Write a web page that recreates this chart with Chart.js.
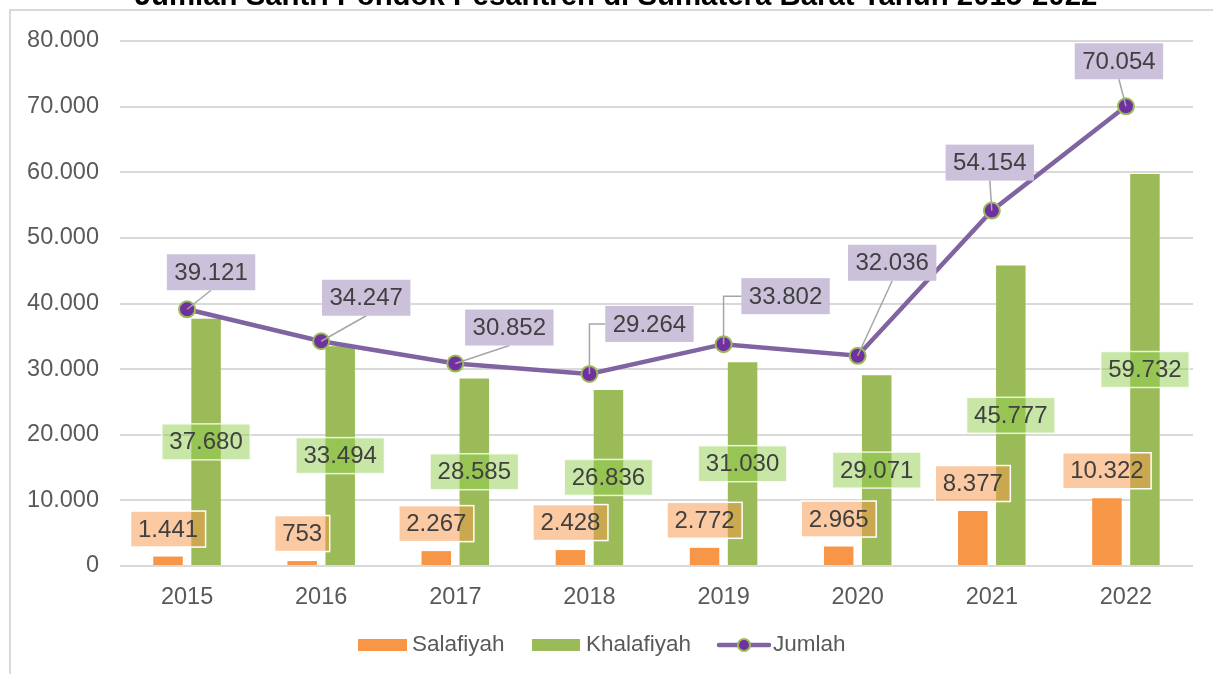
<!DOCTYPE html>
<html><head><meta charset="utf-8">
<script src="https://cdn.jsdelivr.net/npm/chart.js@4"></script>
<style>
html,body{margin:0;padding:0;background:#fff;}
#wrap{position:relative;width:1213px;height:674px;overflow:hidden;}
#frame{position:absolute;left:9px;top:9px;width:1220px;height:700px;border-left:2px solid #D9D9D9;border-top:2px solid #D9D9D9;}
canvas{position:absolute;left:0;top:0;}
</style></head><body>
<div id="wrap"><div id="frame"></div><canvas id="c" width="1213" height="674"></canvas></div>
<script>
const chartTitle = "Jumlah Santri Pondok Pesantren di Sumatera Barat Tahun 2015-2022";
const years = ["2015","2016","2017","2018","2019","2020","2021","2022"];
const salafiyah = [1441, 753, 2267, 2428, 2772, 2965, 8377, 10322];
const khalafiyah = [37680, 33494, 28585, 26836, 31030, 29071, 45777, 59732];
const jumlah = [39121, 34247, 30852, 29264, 33802, 32036, 54154, 70054];
const seriesNames = ["Salafiyah", "Khalafiyah", "Jumlah"];

// label placement (style, not data)
const jumlahLabelOffset = [[24,-37],[45,-43.5],[54,-36],[60,-50],[62,-48],[34.5,-93],[-2,-48],[-7,-45]];
const jumlahLeader = ['b','b','b','l','l','b','b','b'];

const FONT = "'Liberation Sans', Arial, sans-serif";
Chart.defaults.font.family = FONT;
const fmt = v => String(v).replace(/\B(?=(\d{3})+(?!\d))/g, '.');
const LABEL_FONT = "24px " + FONT;

function drawBox(ctx, cx, cy, text, fill, stroke) {
  ctx.font = LABEL_FONT;
  const w = ctx.measureText(text).width + 15, h = 36;
  const x = cx - w/2, y = cy - h/2;
  ctx.fillStyle = fill;
  ctx.fillRect(x, y, w, h);
  if (stroke) { ctx.strokeStyle = stroke; ctx.lineWidth = 1.5; ctx.strokeRect(x, y, w, h); }
  ctx.fillStyle = '#404040';
  ctx.textAlign = 'center';
  ctx.textBaseline = 'middle';
  ctx.fillText(text, cx, cy + 1);
  return {x, y, w, h};
}

const labelPlugin = {
  id: 'labels',
  afterDatasetsDraw(chart) {
    const ctx = chart.ctx;
    ctx.save();
    const mK = chart.getDatasetMeta(1);
    mK.data.forEach((el, i) => {
      drawBox(ctx, el.x, (el.y + el.base)/2, fmt(khalafiyah[i]), 'rgba(146,208,80,0.5)', 'rgba(255,255,255,0.8)');
    });
    const mS = chart.getDatasetMeta(0);
    mS.data.forEach((el, i) => {
      drawBox(ctx, el.x, el.y - 27.5, fmt(salafiyah[i]), 'rgba(247,150,70,0.5)', '#ffffff');
    });
    const mJ = chart.getDatasetMeta(2);
    mJ.data.forEach((el, i) => {
      const cx = el.x + jumlahLabelOffset[i][0], cy = el.y + jumlahLabelOffset[i][1];
      ctx.font = LABEL_FONT;
      const w = ctx.measureText(fmt(jumlah[i])).width + 15, h = 36;
      ctx.strokeStyle = '#A6A6A6'; ctx.lineWidth = 1.5;
      ctx.beginPath();
      ctx.moveTo(el.x, el.y);
      if (jumlahLeader[i] === 'l') { ctx.lineTo(el.x, cy); ctx.lineTo(cx - w/2, cy); }
      else { ctx.lineTo(cx, cy + h/2); }
      ctx.stroke();
      drawBox(ctx, cx, cy, fmt(jumlah[i]), '#CCC1DA', null);
    });
    ctx.restore();
  },
  afterDraw(chart) {
    const ctx = chart.ctx;
    ctx.save();
    let fs = 24;
    ctx.font = "bold " + fs + "px " + FONT;
    const tw = ctx.measureText(chartTitle).width;
    fs = fs * 963 / tw;
    ctx.font = "bold " + fs + "px " + FONT;
    ctx.fillStyle = '#000';
    ctx.textAlign = 'center';
    ctx.textBaseline = 'alphabetic';
    ctx.fillText(chartTitle, 616, 5);
    const ly = 645;
    ctx.font = "22.5px " + FONT;
    ctx.textAlign = 'left';
    ctx.textBaseline = 'middle';
    ctx.fillStyle = '#F79646'; ctx.fillRect(358, ly - 6, 49, 12);
    ctx.fillStyle = '#595959'; ctx.fillText(seriesNames[0], 412, ly);
    ctx.fillStyle = '#9BBB59'; ctx.fillRect(532, ly - 6, 48, 12);
    ctx.fillStyle = '#595959'; ctx.fillText(seriesNames[1], 586, ly);
    ctx.strokeStyle = '#8064A2'; ctx.lineWidth = 4.5; ctx.lineCap = 'round';
    ctx.beginPath(); ctx.moveTo(719, ly); ctx.lineTo(769, ly); ctx.stroke();
    ctx.beginPath(); ctx.arc(744, ly, 6, 0, Math.PI*2);
    ctx.fillStyle = '#7030A0'; ctx.fill();
    ctx.strokeStyle = '#9BBB59'; ctx.lineWidth = 2; ctx.stroke();
    ctx.fillStyle = '#595959'; ctx.fillText(seriesNames[2], 773, ly);
    ctx.restore();
  }
};

new Chart(document.getElementById('c'), {
  data: {
    labels: years,
    datasets: [
      { type: 'bar', label: seriesNames[0], data: salafiyah, backgroundColor: '#F79646', order: 1,
        categoryPercentage: 0.567, barPercentage: 0.776 },
      { type: 'bar', label: seriesNames[1], data: khalafiyah, backgroundColor: '#9BBB59', order: 1,
        categoryPercentage: 0.567, barPercentage: 0.776 },
      { type: 'line', label: seriesNames[2], data: jumlah, borderColor: '#8064A2', borderWidth: 4.5,
        pointBackgroundColor: '#7030A0', pointBorderColor: '#9BBB59', pointBorderWidth: 2,
        pointRadius: 8, tension: 0, order: 0 }
    ]
  },
  options: {
    responsive: false,
    animation: false,
    devicePixelRatio: 1,
    layout: { padding: { top: 41, right: 20, left: 0, bottom: 0 } },
    plugins: { legend: { display: false }, title: { display: false }, tooltip: { enabled: false } },
    scales: {
      x: {
        grid: { display: false }, border: { display: false },
        ticks: { color: '#595959', font: { size: 23.5 }, padding: 9 },
        afterFit(s) { s.height = 108; }
      },
      y: {
        min: 0, max: 80000,
        ticks: { stepSize: 10000, color: '#595959', font: { size: 23.5 }, padding: 21, callback: v => fmt(v) },
        grid: { color: '#D9D9D9', lineWidth: 2, drawTicks: false },
        border: { display: false },
        afterFit(s) { s.width = 120; }
      }
    }
  },
  plugins: [labelPlugin]
});
</script>
</body></html>
